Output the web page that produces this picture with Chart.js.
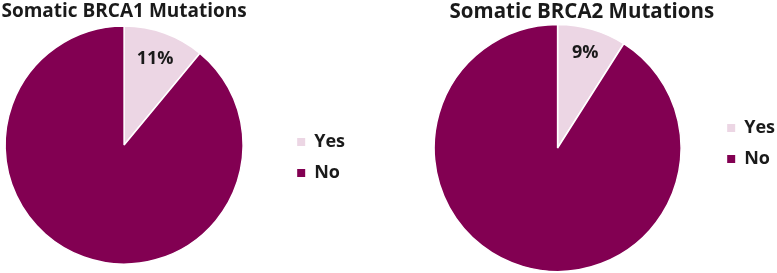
<!DOCTYPE html>
<html>
<head>
<meta charset="utf-8">
<script src="https://cdn.jsdelivr.net/npm/chart.js@4.4.1/dist/chart.umd.min.js"></script>
<style>
  html, body { margin: 0; padding: 0; background: #fff; overflow: hidden; }
  body { width: 777px; height: 273px; position: relative; }
  .pie-box { position: absolute; top: 0; height: 273px; }
</style>
</head>
<body>
<div class="pie-box" style="left:-36px"><canvas id="brca1Chart" width="400" height="273"></canvas></div>
<div class="pie-box" style="left:401px"><canvas id="brca2Chart" width="400" height="273"></canvas></div>
<script>
// Chart data
const categories = ['Yes', 'No'];
const brca1Values = [11, 89];
const brca2Values = [9, 91];
const brca1SliceLabels = ['11%', ''];
const brca2SliceLabels = ['9%', ''];
const brca1Title = 'Somatic BRCA1 Mutations';
const brca2Title = 'Somatic BRCA2 Mutations';
const sliceColors = ['#ECD6E4', '#820052'];

const FONT = '"Open Sans", "Liberation Sans", sans-serif';
const TEXT_COLOR = '#1a1a1a';

// Draws the percentage text inside the slices
const sliceLabelPlugin = {
    id: 'sliceLabels',
    afterDatasetsDraw(chart, args, opts) {
        const ctx = chart.ctx;
        const meta = chart.getDatasetMeta(0);
        meta.data.forEach((arc, i) => {
            const text = opts.labels[i];
            if (!text) return;
            const p = arc.getProps(['x', 'y', 'startAngle', 'endAngle', 'outerRadius'], true);
            const mid = (p.startAngle + p.endAngle) / 2;
            const r = p.outerRadius * opts.distance;
            ctx.save();
            ctx.font = 'bold 18px ' + FONT;
            ctx.fillStyle = TEXT_COLOR;
            ctx.textAlign = 'center';
            ctx.textBaseline = 'middle';
            ctx.fillText(text, p.x + Math.cos(mid) * r, p.y + Math.sin(mid) * r);
            ctx.restore();
        });
    }
};

function pieConfig(title, values, sliceLabels, layout) {
    return {
        type: 'pie',
        data: {
            labels: categories,
            datasets: [{
                data: values,
                backgroundColor: sliceColors,
                borderColor: '#ffffff',
                borderWidth: 1.5,
                radius: layout.radius
            }]
        },
        plugins: [sliceLabelPlugin],
        options: {
            responsive: false,
            maintainAspectRatio: false,
            animation: false,
            layout: { padding: layout.padding },
            plugins: {
                tooltip: { enabled: false },
                title: {
                    display: true,
                    text: title,
                    fullSize: false,
                    align: layout.titleAlign,
                    color: TEXT_COLOR,
                    font: { family: FONT, size: layout.titleSize, weight: 'bold', lineHeight: '24px' },
                    padding: { top: 0, bottom: 0 }
                },
                legend: {
                    position: 'right',
                    align: 'start',
                    title: {
                        display: true,
                        text: '',
                        font: { size: 10 },
                        padding: { top: layout.legendOffset, bottom: 0 }
                    },
                    labels: {
                        boxWidth: 8,
                        boxHeight: 8,
                        padding: 13,
                        color: TEXT_COLOR,
                        font: { family: FONT, size: 18, weight: 'bold' },
                        generateLabels(chart) {
                            const items = Chart.overrides.pie.plugins.legend.labels.generateLabels(chart);
                            return items.map(it => ({ ...it, lineWidth: 0, strokeStyle: 'rgba(0,0,0,0)' }));
                        }
                    }
                },
                sliceLabels: { labels: sliceLabels, distance: layout.labelDistance }
            }
        }
    };
}

// Build one pie chart; the canvas is sized so the legend starts where the pie area ends
function makePie(canvasId, title, values, sliceLabels, layout) {
    const canvas = document.getElementById(canvasId);
    let chart = new Chart(canvas, pieConfig(title, values, sliceLabels, layout));
    const legendWidth = Math.ceil(chart.legend.width);
    chart.destroy();
    canvas.width = layout.areaWidth + legendWidth;
    canvas.height = 273;
    chart = new Chart(canvas, pieConfig(title, values, sliceLabels, layout));
    return chart;
}

document.addEventListener('DOMContentLoaded', () => {
    makePie('brca1Chart', brca1Title, brca1Values, brca1SliceLabels, {
        areaWidth: 320,
        radius: 119,
        padding: { left: 0, right: 0, top: 0, bottom: 7 },
        titleAlign: 'center',
        titleSize: 19,
        legendOffset: 108,
        labelDistance: 0.77
    });
    makePie('brca2Chart', brca2Title, brca2Values, brca2SliceLabels, {
        areaWidth: 313,
        radius: 123.5,
        padding: { left: 0, right: 0, top: 0, bottom: 1 },
        titleAlign: 'end',
        titleSize: 20.5,
        legendOffset: 94,
        labelDistance: 0.8
    });
});
</script>
</body>
</html>
